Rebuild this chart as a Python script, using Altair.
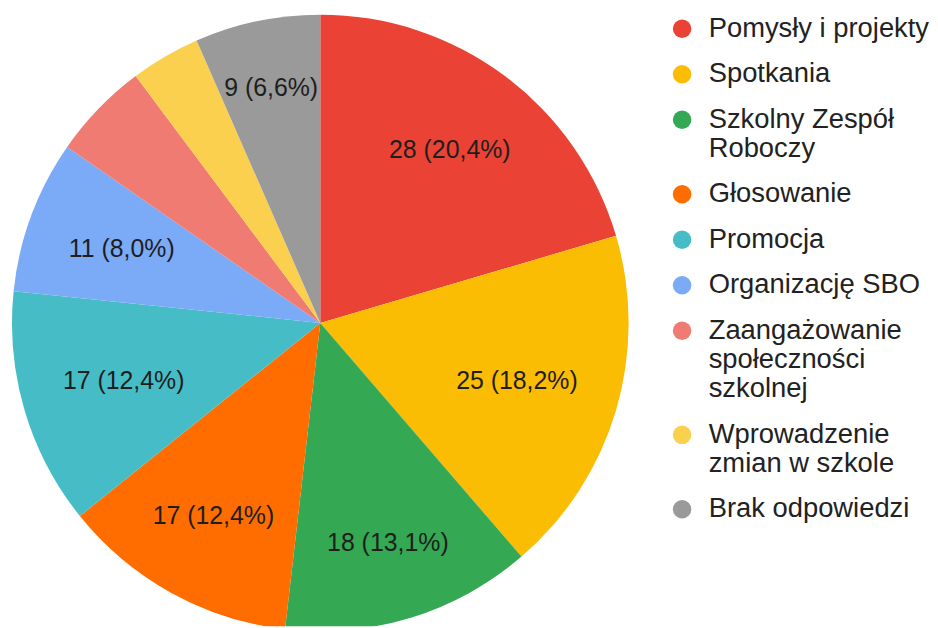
import math
import altair as alt
import pandas as pd

categories = [
    "Pomysły i projekty",
    "Spotkania",
    "Szkolny Zespół Roboczy",
    "Głosowanie",
    "Promocja",
    "Organizację SBO",
    "Zaangażowanie społeczności szkolnej",
    "Wprowadzenie zmian w szkole",
    "Brak odpowiedzi",
]
legend_lines = [
    ["Pomysły i projekty"],
    ["Spotkania"],
    ["Szkolny Zespół", "Roboczy"],
    ["Głosowanie"],
    ["Promocja"],
    ["Organizację SBO"],
    ["Zaangażowanie", "społeczności", "szkolnej"],
    ["Wprowadzenie", "zmian w szkole"],
    ["Brak odpowiedzi"],
]
values = [28, 25, 18, 17, 17, 11, 7, 5, 9]
colors = ["#EA4335", "#FBBC04", "#34A853", "#FF6D01", "#46BDC6",
          "#7BAAF7", "#F07B72", "#FCD04F", "#9A9A9A"]

FONT = "Liberation Sans"
LABEL_SIZE = 25
PIE_R = 310
LABEL_FAR = 269      # slice labels are placed so their far corner touches this circle
LABEL_HALF_H = 15
MIN_PCT = 6          # slices below this share get no label

total = sum(values)
legend_text = ["\n".join(l) for l in legend_lines]
df = pd.DataFrame({
    "category": categories,
    "legend": legend_text,
    "value": values,
    "idx": list(range(len(values))),
})
df["pct"] = df["value"] / total * 100
df["label"] = [
    (f"{v} ({p:.1f}%)".replace(".", ",") if p >= MIN_PCT else "")
    for v, p in zip(df["value"], df["pct"])
]

# Arial-like advance widths to estimate label box width
_cw = {" ": 0.278, "(": 0.333, ")": 0.333, ",": 0.278, "%": 0.889}


def text_width(s):
    return sum(_cw.get(c, 0.556) for c in s) * LABEL_SIZE


cum = df["value"].cumsum()
radii = []
for v, c, lab in zip(df["value"], cum, df["label"]):
    mid = (c - v / 2) / total * 2 * math.pi
    ux, uy = abs(math.sin(mid)), abs(math.cos(mid))
    a, b = text_width(lab) / 2, LABEL_HALF_H
    k = a * ux + b * uy
    radii.append(-k + math.sqrt(k * k - (a * a + b * b - LABEL_FAR ** 2)))
df["label_r"] = radii

base = alt.Chart(df).encode(
    theta=alt.Theta("value:Q", stack=True),
    order=alt.Order("idx:Q", sort="ascending"),
)

pie = base.mark_arc(outerRadius=PIE_R, clip=True).encode(
    color=alt.Color(
        "legend:N",
        scale=alt.Scale(domain=legend_text, range=colors),
        legend=alt.Legend(
            title=None,
            orient="none",
            legendX=664,
            legendY=5.5,
            padding=0,
            symbolType="circle",
            symbolSize=346,
            symbolStrokeWidth=0,
            labelFont=FONT,
            labelFontSize=27.5,
            labelColor="#222222",
            labelOffset=13,
            labelLimit=500,
            rowPadding=16.75,
            labelExpr="split(datum.label, '\\n')",
        ),
    ),
    y=alt.value(315),
)

text = base.mark_text(
    font=FONT, fontSize=LABEL_SIZE, color="#1e1e1e",
    radius=alt.expr("datum.label_r"),
).encode(
    text="label:N",
    y=alt.value(315),
)

chart = alt.layer(pie, text).properties(
    width=628, height=620, padding=0
).configure_view(stroke=None)

chart.save("out.html", embed_options={"renderer": "svg", "actions": False})
